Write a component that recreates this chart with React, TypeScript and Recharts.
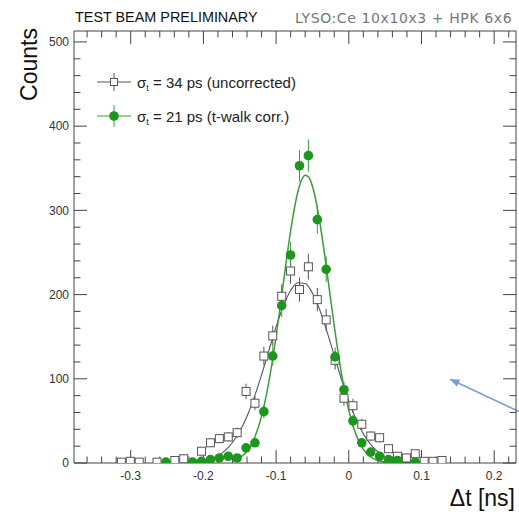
import React from 'react';
import { ComposedChart, Scatter, Line, XAxis, YAxis, ErrorBar, Legend, ReferenceLine } from 'recharts';

// bin centres (ns) shared by both histograms
const binCenters = [
  -0.3128, -0.3006, -0.2883, -0.2761, -0.2638, -0.2516, -0.2393, -0.2271, -0.2148, -0.2026,
  -0.1903, -0.1781, -0.1658, -0.1536, -0.1413, -0.1291, -0.1168, -0.1046, -0.0923, -0.0801,
  -0.0678, -0.0556, -0.0433, -0.0311, -0.0188, -0.0066, 0.0057, 0.0179, 0.0302, 0.0424,
  0.0547, 0.0669, 0.0792, 0.0914, 0.1037, 0.1159, 0.1282,
];
const uncorrectedCounts = [
  1, 2, 1, 0, 1, 0, 3, 5, 0, 14,
  24, 29, 31, 36, 85, 71, 127, 151, 198, 228,
  206, 233, 194, 170, 122, 77, 68, 46, 32, 30,
  17, 8, 6, 11, 2, 2, 3,
];
const correctedCounts = [
  0, 0, 0, 0, 0, 1, 0, 0, 1, 2,
  4, 6, 8, 6, 18, 24, 61, 127, 187, 247,
  353, 365, 289, 230, 126, 87, 50, 24, 13, 8,
  4, 3, 0, 1, 0, 0, 0,
];

// fitted curves
const uncorrectedFitX = [
  -0.21, -0.2, -0.19, -0.18, -0.17, -0.16, -0.15, -0.14, -0.13, -0.12, -0.11, -0.1, -0.09, -0.08, -0.07, -0.06,
  -0.05, -0.04, -0.03, -0.02, -0.01, 0, 0.01, 0.02, 0.03, 0.04, 0.05, 0.06, 0.07, 0.08, 0.09, 0.1,
];
const uncorrectedFitY = [
  1.3, 2.5, 4.8, 8.7, 14.9, 24.3, 37.7, 55.6, 78.2, 104.7, 133.3, 161.6, 186.5, 204.9, 214.1, 213.1,
  201.8, 182, 156.1, 127.5, 99.1, 73.3, 51.6, 34.6, 22.1, 13.4, 7.8, 4.3, 2.2, 1.1, 0.5, 0.2,
];
const correctedFitX = [
  -0.16, -0.15, -0.14, -0.13, -0.12, -0.11, -0.1, -0.09, -0.08, -0.07, -0.065, -0.06, -0.055, -0.05,
  -0.04, -0.03, -0.02, -0.01, 0, 0.01, 0.02, 0.03, 0.04, 0.05, 0.06, 0.07, 0.08, 0.09,
];
const correctedFitY = [
  2.4, 6, 13.9, 29.2, 55.6, 96, 150.5, 213.9, 275.8, 322.4, 336, 341.8, 339.3, 328.7,
  286.7, 226.9, 162.7, 105.9, 62.5, 33.4, 16.2, 7.1, 2.9, 1, 0.4, 0.1, 0, 0,
];

const xMajorTicks = [-0.3, -0.2, -0.1, 0, 0.1, 0.2];
const xMinorTicks = [
  -0.36, -0.34, -0.32, -0.28, -0.26, -0.24, -0.22, -0.18, -0.16, -0.14, -0.12, -0.08,
  -0.06, -0.04, -0.02, 0.02, 0.04, 0.06, 0.08, 0.12, 0.14, 0.16, 0.18, 0.22,
];
const yMajorTicks = [0, 100, 200, 300, 400, 500];
const yMinorTicks = [
  20, 40, 60, 80, 120, 140, 160, 180, 220, 240, 260, 280, 320, 340, 360, 380, 420, 440, 460, 480,
];

const legendItems = ['34 ps (uncorrected)', '21 ps (t-walk corr.)'];
const arrowSegment = [{ x: 0.2344, y: 61 }, { x: 0.1394, y: 99.5 }];

const X_DOMAIN = [-0.378, 0.23];
const Y_DOMAIN = [0, 513];
// inward tick lengths, in data units (x ticks measured in counts, y ticks in ns)
const X_TICK_LEN = { major: 15.4, minor: 7.7 };
const Y_TICK_LEN = { major: 0.0179, minor: 0.0089 };

const FONT = '"Liberation Sans", Arial, Helvetica, sans-serif';
const FRAME = '#444';
const GREY = '#555';
const GREEN = '#1c961c';
const GREEN_LINE = '#3a9c3a';

const toPoints = (counts: number[]) =>
  binCenters
    .map((x, i) => ({ x, y: counts[i], err: Math.sqrt(counts[i]) }))
    .filter(p => p.y > 0);

const toCurve = (xs: number[], ys: number[]) => xs.map((x, i) => ({ x, y: ys[i] }));

// tick marks on all four sides of the frame, ROOT style
const buildTickSegments = () => {
  const [x0, x1] = X_DOMAIN;
  const [y0, y1] = Y_DOMAIN;
  const segs: { x: number; y: number }[][] = [];
  const addX = (v: number, len: number) => {
    segs.push([{ x: v, y: y0 }, { x: v, y: y0 + len }]);
    segs.push([{ x: v, y: y1 }, { x: v, y: y1 - len }]);
  };
  const addY = (v: number, len: number) => {
    segs.push([{ x: x0, y: v }, { x: x0 + len, y: v }]);
    segs.push([{ x: x1, y: v }, { x: x1 - len, y: v }]);
  };
  xMajorTicks.forEach(v => addX(v, X_TICK_LEN.major));
  xMinorTicks.forEach(v => addX(v, X_TICK_LEN.minor));
  yMajorTicks.forEach(v => addY(v, Y_TICK_LEN.major));
  yMinorTicks.forEach(v => addY(v, Y_TICK_LEN.minor));
  return segs;
};

const XLabel = ({ x, y, payload }: any) => (
  <text x={x} y={y + 17} textAnchor="middle" fontSize={12} fill="#333" fontFamily={FONT}>
    {payload.value === 0 ? '0' : String(payload.value)}
  </text>
);

const YLabel = ({ x, y, payload }: any) => (
  <text x={x - 5} y={y} dy={4.3} textAnchor="end" fontSize={12} fill="#333" fontFamily={FONT}>
    {payload.value}
  </text>
);

const SquareMarker = ({ cx, cy }: any) => (
  <rect x={cx - 4} y={cy - 4} width={8} height={8} fill="#fff" stroke={GREY} strokeWidth={1} />
);

const CircleMarker = ({ cx, cy }: any) => <circle cx={cx} cy={cy} r={4.8} fill={GREEN} />;

const Arrow = ({ x1, y1, x2, y2 }: any) => {
  const a = Math.atan2(y2 - y1, x2 - x1);
  const s = 10;
  const p1 = `${x2},${y2}`;
  const p2 = `${x2 - s * Math.cos(a - 0.4)},${y2 - s * Math.sin(a - 0.4)}`;
  const p3 = `${x2 - s * Math.cos(a + 0.4)},${y2 - s * Math.sin(a + 0.4)}`;
  return (
    <g>
      <line x1={x1} y1={y1} x2={x2} y2={y2} stroke="#7b9bdc" strokeWidth={1.5} />
      <polygon points={`${p1} ${p2} ${p3}`} fill="#7b9bdc" />
    </g>
  );
};

const LegendContent = () => (
  <div style={{ fontFamily: FONT, fontSize: 15, color: '#222' }}>
    {legendItems.map((label, i) => (
      <div key={label} style={{ display: 'flex', alignItems: 'center', height: 34 }}>
        <svg width={40} height={34}>
          <line x1={3} x2={37} y1={17} y2={17} stroke={i === 0 ? GREY : GREEN_LINE} strokeWidth={1} />
          {i === 0 ? (
            <>
              <line x1={20} x2={20} y1={8} y2={26} stroke={GREY} strokeWidth={1} />
              <rect x={16.5} y={13.5} width={7} height={7} fill="#fff" stroke={GREY} />
            </>
          ) : (
            <>
              <line x1={20} x2={20} y1={6} y2={28} stroke={GREEN_LINE} strokeWidth={1} />
              <circle cx={20} cy={17} r={4.8} fill={GREEN} />
            </>
          )}
        </svg>
        <span style={{ marginLeft: 3, whiteSpace: 'nowrap' }}>
          σ<span style={{ fontSize: 9, position: 'relative', top: 3 }}>t</span> = {label}
        </span>
      </div>
    ))}
  </div>
);

const App: React.FC = () => {
  const uncorrected = toPoints(uncorrectedCounts);
  const corrected = toPoints(correctedCounts);
  const uncorrectedFit = toCurve(uncorrectedFitX, uncorrectedFitY);
  const correctedFit = toCurve(correctedFitX, correctedFitY);
  const tickSegments = buildTickSegments();

  return (
    <div style={{ position: 'absolute', left: 0, top: 0, width: 519, height: 512, background: '#fff', fontFamily: FONT }}>
      <ComposedChart width={519} height={512} margin={{ top: 30, right: 2, bottom: 48, left: 73 }}>
        <XAxis
          xAxisId="b" type="number" dataKey="x" domain={X_DOMAIN} allowDataOverflow
          ticks={xMajorTicks} interval={0} height={1} tickSize={0} tickMargin={0} tickLine={false}
          tick={XLabel} axisLine={{ stroke: FRAME }}
        />
        <XAxis
          xAxisId="t" orientation="top" type="number" dataKey="x" domain={X_DOMAIN} allowDataOverflow
          ticks={xMajorTicks} interval={0} height={1} tickSize={0} tickMargin={0} tickLine={false}
          tick={false} axisLine={{ stroke: FRAME }}
        />
        <YAxis
          yAxisId="l" type="number" dataKey="y" domain={Y_DOMAIN} allowDataOverflow
          ticks={yMajorTicks} interval={0} width={1} tickSize={0} tickMargin={0} tickLine={false}
          tick={YLabel} axisLine={{ stroke: FRAME }}
        />
        <YAxis
          yAxisId="r" orientation="right" type="number" dataKey="y" domain={Y_DOMAIN} allowDataOverflow
          ticks={yMajorTicks} interval={0} width={1} tickSize={0} tickMargin={0} tickLine={false}
          tick={false} axisLine={{ stroke: FRAME }}
        />
        <Legend
          layout="vertical" align="center" verticalAlign="middle"
          content={<LegendContent />}
          wrapperStyle={{ left: 94, top: 65, width: 'auto', height: 'auto' }}
        />

        {tickSegments.map((seg, i) => (
          <ReferenceLine
            key={`tick-${i}`} xAxisId="b" yAxisId="l" segment={seg} ifOverflow="visible"
            stroke={FRAME} strokeWidth={1}
          />
        ))}

        <Line
          xAxisId="b" yAxisId="l" data={uncorrectedFit} dataKey="y" type="monotone"
          stroke={GREY} strokeWidth={1.1} dot={false} isAnimationActive={false} name="fit uncorrected"
        />
        <Scatter
          xAxisId="b" yAxisId="l" data={uncorrected} dataKey="y" shape={<SquareMarker />}
          isAnimationActive={false} name="uncorrected"
        >
          <ErrorBar dataKey="err" direction="y" width={0} stroke={GREY} strokeWidth={1} />
        </Scatter>
        <Scatter
          xAxisId="b" yAxisId="l" data={corrected} dataKey="y" shape={<CircleMarker />}
          isAnimationActive={false} name="t-walk corr."
        >
          <ErrorBar dataKey="err" direction="y" width={0} stroke={GREEN_LINE} strokeWidth={1} />
        </Scatter>
        <Line
          xAxisId="b" yAxisId="l" data={correctedFit} dataKey="y" type="monotone"
          stroke={GREEN_LINE} strokeWidth={1.5} dot={false} isAnimationActive={false} name="fit corrected"
        />
        <ReferenceLine
          xAxisId="b" yAxisId="l" segment={arrowSegment} ifOverflow="visible" shape={(p: any) => <Arrow {...p} />}
        />
      </ComposedChart>

      <svg width={519} height={512} style={{ position: 'absolute', left: 0, top: 0, pointerEvents: 'none' }}>
        <text x={75} y={22} fontSize={14.4} fill="#111" fontFamily={FONT}>TEST BEAM PRELIMINARY</text>
        <text x={295} y={23} fontSize={14} letterSpacing={0.6} fill="#777" fontFamily='"DejaVu Sans", sans-serif'>
          LYSO:Ce 10x10x3 + HPK 6x6
        </text>
        <text x={37} y={28} fontSize={23} fill="#111" textAnchor="end" transform="rotate(-90 37 28)" fontFamily={FONT}>
          Counts
        </text>
        <text x={515} y={506} fontSize={23} fill="#111" textAnchor="end" fontFamily={FONT}>Δt [ns]</text>
      </svg>
    </div>
  );
};

export default App;
